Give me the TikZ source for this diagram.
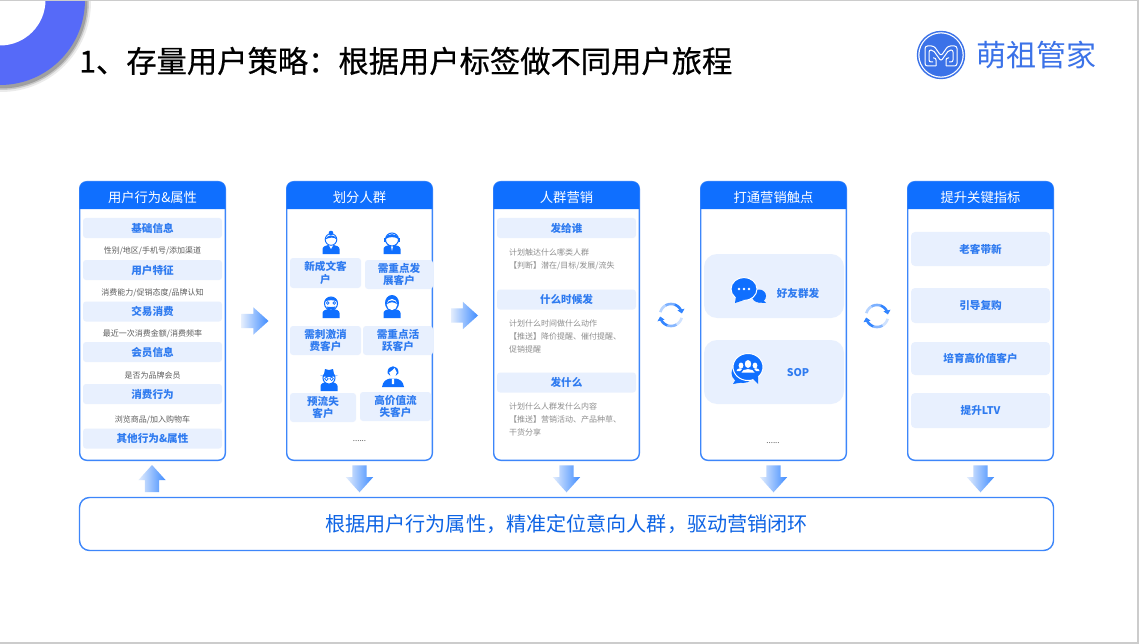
\documentclass[tikz,border=0pt]{standalone}
\usepackage{fontspec}
\setmainfont{Noto Sans CJK SC}
\newfontfamily\titlefont[FakeBold=0.5]{Noto Sans CJK SC}
\usetikzlibrary{arrows.meta,shapes.arrows,calc}
\definecolor{headblue}{HTML}{0F6FFF}
\definecolor{edgeblue}{HTML}{3D86FA}
\definecolor{barblue}{HTML}{E8F0FE}
\definecolor{labblue}{HTML}{2F7BF0}
\definecolor{logoblue}{HTML}{3B72E8}
\definecolor{ringblue}{HTML}{566AF8}
\definecolor{subgray}{HTML}{5E5E5E}
\definecolor{notegray}{HTML}{8E8E8E}
\definecolor{palearrow}{HTML}{E3EDFD}
\tikzset{
    panel/.style = {draw=edgeblue, fill=white, line width=1.4pt, rectangle, rounded corners=7pt,
        minimum width=145.6pt, minimum height=278.6pt, inner sep=0pt, outer sep=0pt},
    headtext/.style = {text=white, font=\fontsize{13.3}{15}\selectfont, inner sep=0pt},
    bar/.style = {fill=barblue, rounded corners=3pt, minimum width=139pt, minimum height=20pt,
        inner sep=0pt, text=labblue, font=\fontsize{10.6}{12}\bfseries\selectfont},
    tagbox/.style = {fill=barblue, rounded corners=3pt, inner sep=0pt, align=center,
        text=labblue, font=\fontsize{10.6}{12.8}\bfseries\selectfont},
    card/.style = {fill=barblue, rounded corners=13pt, minimum width=140pt, minimum height=64pt, inner sep=0pt},
    goal/.style = {fill=barblue, rounded corners=4pt, minimum width=139pt, inner sep=0pt,
        text=labblue, font=\fontsize{10.6}{12}\bfseries\selectfont},
    cardtext/.style = {inner sep=0pt, text=labblue, font=\fontsize{10.6}{12}\bfseries\selectfont},
    subtext/.style = {inner sep=0pt, text=subgray, font=\fontsize{8}{10}\selectfont},
    notetext/.style = {inner sep=0pt, text=notegray, font=\fontsize{8}{13}\selectfont, align=left, anchor=north west},
    dots/.style = {inner sep=0pt, text=subgray, font=\fontsize{8}{8}\selectfont},
    flowarrow/.style = {single arrow, single arrow head extend=6.5pt, single arrow tip angle=84,
        single arrow head indent=0pt, minimum height=27pt, inner xsep=0pt, inner ysep=7pt,
        outer sep=0pt, left color=palearrow, right color=headblue!80, anchor=tail},
    rightarrow/.style = {flowarrow},
    downarrow/.style = {flowarrow, rotate=-90},
    uparrow/.style = {flowarrow, rotate=90},
    loopicon/.pic = {
        \draw[line width=2.6pt, draw=headblue!30] plot[domain=195:240,samples=6] ({11*cos(\x)},{11*sin(\x)});
        \draw[line width=2.6pt, draw=headblue!55] plot[domain=240:290,samples=6] ({11*cos(\x)},{11*sin(\x)});
        \draw[line width=2.6pt, draw=headblue!85, -{Triangle[width=7pt,length=4pt]}] plot[domain=290:352,samples=7] ({11*cos(\x)},{11*sin(\x)});
        \draw[line width=2.6pt, draw=headblue!20] plot[domain=15:60,samples=6] ({11*cos(\x)},{11*sin(\x)});
        \draw[line width=2.6pt, draw=headblue!50] plot[domain=60:110,samples=6] ({11*cos(\x)},{11*sin(\x)});
        \draw[line width=2.6pt, draw=headblue!85, -{Triangle[width=7pt,length=4pt]}] plot[domain=110:172,samples=7] ({11*cos(\x)},{11*sin(\x)});
    },
    bust/.pic = {
        \fill[headblue] (-8.5,11) -- (-8.5,6) .. controls (-8.5,3.5) and (-5,2.5) .. (-3,2) -- (3,2) .. controls (5,2.5) and (8.5,3.5) .. (8.5,6) -- (8.5,11) -- cycle;
    },
    womanicon/.pic = {
        \pic {bust};
        \fill[white] (-3.5,0) -- (0,6) -- (3.5,0) -- cycle;
        \draw[headblue, line width=.9pt, fill=white] (0,-3.5) circle (5.8);
        \fill[headblue] (-5.8,-3.5) .. controls (-4,-8) and (3,-10) .. (5.8,-3.5) .. controls (3,-6.5) and (-2,-5.5) .. (-5.8,-3.5) -- cycle;
        \fill[headblue] (0,-10) circle (2.3);
    },
    agenticon/.pic = {
        \pic {bust};
        \fill[white] (-1.5,1) -- (1.5,1) -- (0,8) -- cycle;
        \draw[headblue, line width=1pt, fill=white] (0,-3.5) circle (6.5);
        \fill[headblue] (-6.5,-4) .. controls (-6,-10.5) and (6,-10.5) .. (6.5,-4) .. controls (3,-6.5) and (-3,-6.5) .. (-6.5,-4) -- cycle;
        \fill[headblue] (-8,-5) rectangle (-6.2,-1);
        \fill[headblue] (6.2,-5) rectangle (8,-1);
    },
    beardicon/.pic = {
        \pic {bust};
        \draw[headblue, line width=1pt, fill=white] (0,-3.5) circle (6.5);
        \fill[headblue] (-6.5,-5) .. controls (-6,-11.5) and (6,-11.5) .. (6.5,-5) .. controls (3,-7.5) and (-3,-7.5) .. (-6.5,-5) -- cycle;
        \fill[headblue] (-4.5,-0.5) .. controls (-2,0.2) and (2,0.2) .. (4.5,-0.5) .. controls (3.5,3.5) and (-3.5,3.5) .. (-4.5,-0.5) -- cycle;
        \draw[headblue, line width=.7pt] (-3.2,-4) circle (1.4);
        \draw[headblue, line width=.7pt] (3.2,-4) circle (1.4);
    },
    hairicon/.pic = {
        \pic {bust};
        \fill[headblue] (0,-4) ellipse (7 and 8);
        \fill[white] (0,-2.5) ellipse (5.3 and 5.6);
        \fill[headblue] (-5.3,-2.5) .. controls (-4,-8) and (4,-8) .. (5.3,-2.5) .. controls (2,-5.5) and (-2,-5.5) .. (-5.3,-2.5) -- cycle;
    },
    spyicon/.pic = {
        \pic {bust};
        \draw[headblue, line width=1pt, fill=white] (0,-2) circle (6);
        \fill[headblue] (-9,-4.5) .. controls (-6,-4) and (-5.5,-4) .. (-5,-6) -- (-4,-11) -- (0,-10) -- (4,-11) -- (5,-6) .. controls (5.5,-4) and (6,-4) .. (9,-4.5) .. controls (4,-2.5) and (-4,-2.5) .. (-9,-4.5) -- cycle;
        \draw[headblue, line width=.7pt] (-2.6,-1.2) circle (1.8);
        \draw[headblue, line width=.7pt] (2.6,-1.2) circle (1.8);
    },
    bossicon/.pic = {
        \fill[headblue] (-11,11) .. controls (-10,5) and (-7,3.5) .. (-3,2.5) -- (3,2.5) .. controls (7,3.5) and (10,5) .. (11,11) -- cycle;
        \fill[white] (-1,2.5) -- (1,2.5) -- (1.2,8) -- (-1.2,8) -- cycle;
        \fill[headblue] (-5.5,-3) .. controls (-6,-12) and (6,-12) .. (5.5,-3) .. controls (4,1) and (-4,1) .. (-5.5,-3) -- cycle;
        \fill[white] (-3.8,-3.5) .. controls (-1,-5) and (1,-7) .. (1.5,-8) .. controls (2,-6) and (3,-5) .. (3.8,-3.5) .. controls (3.5,2) and (-3.5,2) .. (-3.8,-3.5) -- cycle;
    },
    chaticon/.pic = {
        \fill[headblue] (11,5) ellipse (7 and 6.5);
        \fill[headblue] (15,9) -- (18,12) -- (10,11.5) -- cycle;
        \draw[white, line width=1pt, fill=headblue] (-4,-2) ellipse (13 and 11.5);
        \fill[headblue] (-12,5) -- (-13,12) -- (-4,9) -- cycle;
        \fill[white] (-9,-2) circle (1.3);
        \fill[white] (-4,-2) circle (1.3);
        \fill[white] (1,-2) circle (1.3);
    },
    groupicon/.pic = {
        \fill[headblue] (-5,4) ellipse (11.5 and 10);
        \fill[headblue] (-12,10) -- (-15,15) -- (-4,13) -- cycle;
        \draw[white, line width=1pt, fill=headblue] (0,-2) ellipse (15 and 13.5);
        \fill[headblue] (4,9) -- (10,15) -- (10,7) -- cycle;
        \fill[white] (0,-5) ellipse (3.2 and 4);
        \fill[white] (-6.5,3.5) .. controls (-6,-1) and (6,-1) .. (6.5,3.5) -- cycle;
        \fill[white] (-7,-3.5) ellipse (2.4 and 3);
        \fill[white] (7,-3.5) ellipse (2.4 and 3);
        \fill[white] (-11.5,2) .. controls (-11,-1) and (-7,-1) .. (-6,0) -- (-8,2) -- cycle;
        \fill[white] (11.5,2) .. controls (11,-1) and (7,-1) .. (6,0) -- (8,2) -- cycle;
    }
}
\newcommand{\panelhead}[2]{
    \fill[headblue] ([yshift=-27.5pt]#1.north west) [rounded corners=7pt] -- (#1.north west) -- (#1.north east) [sharp corners] -- ([yshift=-27.5pt]#1.north east) -- cycle;
    \node [headtext] (#1title) at ([yshift=-16pt]#1.north) {#2};
}

\begin{document}
\begin{tikzpicture}[x=1pt,y=-1pt]
    \useasboundingbox (0,0) rectangle (1139,644);
    \fill[white] (0,0) rectangle (1139,644);
    % corner ring and page edge
    \begin{scope}
        \clip (0,0) rectangle (1139,644);
        \fill[black, opacity=.08] (1,2) circle (90);
        \fill[black, opacity=.14] (1,2) circle (88);
        \fill[black, opacity=.20] (1,2) circle (86.5);
        \fill[ringblue] (0,0) circle (85);
        \fill[white] (0,0) circle (45.5);
    \end{scope}
    \draw[black!20, line width=1pt] (0,0.5) -- (1139,0.5);
    \draw[black!20, line width=2pt] (1138,0) -- (1138,644);
    \draw[black!20, line width=2pt] (0,643) -- (1139,643);

    \node [anchor=west, inner sep=0pt, font=\fontsize{30.3}{34}\titlefont] (title) at (79,61) {1、存量用户策略：根据用户标签做不同用户旅程};

    % logo
    \node [circle, fill=logoblue, draw=white, double=logoblue, double distance=1.4pt, line width=1.2pt, minimum size=47pt, inner sep=0pt] (logomark) at (941,55) {};
    \draw[white, line width=1pt, rounded corners=2.5pt] (936,66) -- (925,66) -- (925,46) -- (934,46) -- (941,56) -- (948,46) -- (957,46) -- (957,66) -- (946,66);
    \draw[white, line width=1pt, rounded corners=2pt] (936,66) -- (936,58) -- (933,58);
    \draw[white, line width=1pt, rounded corners=2pt] (946,66) -- (946,58) -- (949,58);
    \draw[white, line width=1pt, rounded corners=2pt] (933,62) -- (929,62) -- (929,50) -- (933,50) -- (941,61) -- (949,50) -- (953,50) -- (953,62) -- (949,62);
    \node [inner sep=0pt, text=logoblue, font=\fontsize{30}{34}\selectfont] (logotext) at (1036,55) {萌祖管家};

    % five panels
    \node [panel] (attr) at (152.5,321) {};
    \node [panel, right of=attr, node distance=207pt] (crowd) {};
    \node [panel, right of=crowd, node distance=207pt] (market) {};
    \node [panel, right of=market, node distance=207pt] (touch) {};
    \node [panel, right of=touch, node distance=207pt] (metric) {};
    \panelhead{attr}{用户行为\&属性}
    \panelhead{crowd}{划分人群}
    \panelhead{market}{人群营销}
    \panelhead{touch}{打通营销触点}
    \panelhead{metric}{提升关键指标}

    % user attributes
    \node [bar] (basic) at (152.5,228) {基础信息};
    \node [subtext] (basicsub) at (152.5,251) {性别/地区/手机号/添加渠道};
    \node [bar] (trait) at (152.5,270) {用户特征};
    \node [subtext] (traitsub) at (152.5,292.5) {消费能力/促销态度/品牌认知};
    \node [bar] (trade) at (152.5,311.5) {交易消费};
    \node [subtext] (tradesub) at (152.5,334) {最近一次消费金额/消费频率};
    \node [bar] (member) at (152.5,352) {会员信息};
    \node [subtext] (membersub) at (152.5,375) {是否为品牌会员};
    \node [bar] (spend) at (152.5,394) {消费行为};
    \node [subtext] (spendsub) at (152.5,420) {浏览商品/加入购物车};
    \node [bar] (other) at (152.5,438.5) {其他行为\&属性};

    % crowds
    \pic at (331,243) {womanicon};
    \pic at (392,243) {agenticon};
    \pic at (331,307) {beardicon};
    \pic at (392,307) {hairicon};
    \pic at (329,380) {spyicon};
    \pic at (393,376) {bossicon};
    \node [tagbox, minimum width=71pt, minimum height=30pt] (newdeal) at (325.5,273) {新成文客\\户};
    \node [tagbox, minimum width=68pt, minimum height=29pt] (grow) at (399,274.5) {需重点发\\展客户};
    \node [tagbox, minimum width=71pt, minimum height=29pt] (stim) at (325.5,340.5) {需刺激消\\费客户};
    \node [tagbox, minimum width=70pt, minimum height=29pt] (active) at (398,340.5) {需重点活\\跃客户};
    \node [tagbox, minimum width=66pt, minimum height=29pt] (churn) at (323,407.5) {预流失\\客户};
    \node [tagbox, minimum width=71pt, minimum height=29pt] (vipchurn) at (395.5,406.5) {高价值流\\失客户};
    \node [dots] (crowddots) at (359.5,441) {......};

    % marketing
    \node [bar] (whom) at (566.5,228) {发给谁};
    \node [notetext] (whomnote) at (509,248.5) {计划触达什么哪类人群\\【判断】潜在/目标/发展/流失};
    \node [bar] (when) at (566.5,299.5) {什么时候发};
    \node [notetext] (whennote) at (509,319.5) {计划什么时间做什么动作\\【推送】降价提醒、催付提醒、\\促销提醒};
    \node [bar] (what) at (566.5,382.5) {发什么};
    \node [notetext] (whatnote) at (509,402.5) {计划什么人群发什么内容\\【推送】营销活动、产品种草、\\干货分享};

    % touch points
    \node [card] (mass) at (774,286) {};
    \node [card] (sop) at (774,372) {};
    \pic at (748,291) {chaticon};
    \pic at (748,369) {groupicon};
    \node [cardtext] (masstext) at (798,293) {好友群发};
    \node [cardtext] (soptext) at (798,373) {SOP};
    \node [dots] (touchdots) at (773,443) {......};

    % metrics
    \node [goal, minimum height=34pt] (refer) at (980.5,249) {老客带新};
    \node [goal, minimum height=35pt] (rebuy) at (980.5,305.5) {引导复购};
    \node [goal, minimum height=33pt] (vip) at (980.5,358.5) {培育高价值客户};
    \node [goal, minimum height=35pt] (ltv) at (980.5,410.5) {提升LTV};

    % bottom band
    \node [panel, minimum width=974pt, minimum height=53pt, rounded corners=10pt, text=headblue!90!black, font=\fontsize{20.1}{24}\selectfont] (band) at (566.5,524) {根据用户行为属性，精准定位意向人群，驱动营销闭环};

    % arrows between blocks
    \node [rightarrow] (attrcrowd) at (241.5,321) {};
    \node [rightarrow] (crowdmarket) at (451,315.5) {};
    \pic at (671,315) {loopicon};
    \pic at (877,316) {loopicon};
    \node [uparrow] (bandattr) at (152,492) {};
    \node [downarrow] (crowdband) at ([yshift=-5pt]crowd.south) {};
    \node [downarrow] (marketband) at ([yshift=-5pt]market.south) {};
    \node [downarrow] (touchband) at ([yshift=-5pt]touch.south) {};
    \node [downarrow] (metricband) at ([yshift=-5pt]metric.south) {};
\end{tikzpicture}
\end{document}
